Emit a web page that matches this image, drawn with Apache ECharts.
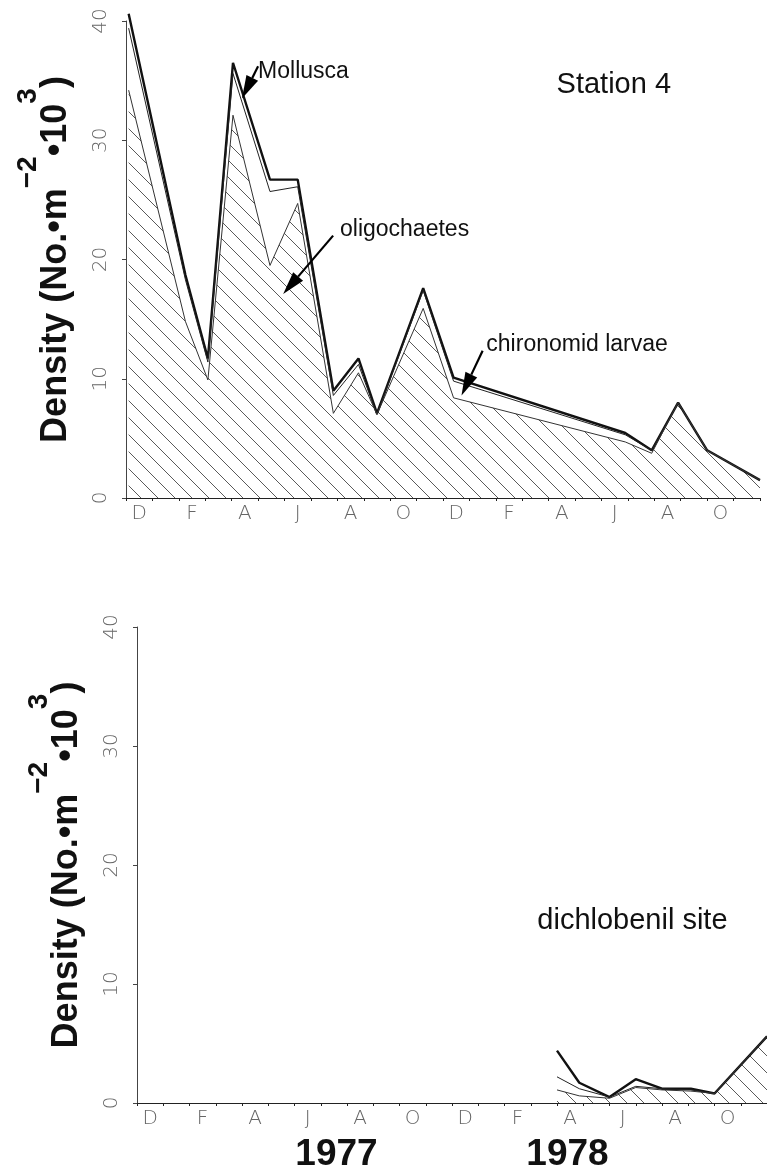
<!DOCTYPE html>
<html>
<head>
<meta charset="utf-8">
<script src="https://cdn.jsdelivr.net/npm/echarts@6/dist/echarts.min.js"></script>
<style>
  html, body { margin: 0; padding: 0; background: #fff; }
  #chart { width: 767px; height: 1171px; }
</style>
</head>
<body>
<div id="chart"></div>
<script>
// Month axis: Dec 1976 .. Nov 1978, one category per month
const monthLetters = ['D','J','F','M','A','M','J','J','A','S','O','N',
                      'D','J','F','M','A','M','J','J','A','S','O','N'];
const densityTicks = [0, 10, 20, 30, 40];

// Station 4: sampling dates (months after 1 Dec 1976) and densities (No. m^-2 x 10^3)
const s4Months        = [0.1, 2.25, 3.1, 4.05, 5.45, 6.5, 7.85, 8.8, 9.5, 11.25, 12.4, 18.9, 19.9, 20.9, 22.0, 24.0];
const s4Oligochaetes  = [34.2, 14.8, 9.9, 32.1, 19.5, 24.7, 7.1, 10.5, 7.0, 15.9, 8.4, 4.7, 3.75, 8.0, 4.0, 1.5];
const s4Chironomids   = [5.2, 3.5, 1.5, 3.5, 6.2, 1.4, 1.5, 0.7, 0.0, 1.5, 1.4, 0.6, 0.25, 0, 0, 0];
const s4Mollusca      = [1.2, 0.4, 0.3, 0.9, 1.0, 0.6, 0.4, 0.5, 0.1, 0.2, 0.3, 0.15, 0, 0, 0, 0];

// Dichlobenil site
const dbMonths        = [16.0, 16.85, 18.0, 19.0, 20.0, 21.1, 22.0, 24.0];
const dbOligochaetes  = [1.1, 0.6, 0.4, 1.3, 1.1, 1.0, 0.8, 5.6];
const dbChironomids   = [1.1, 0.6, 0.1, 0.1, 0.1, 0.1, 0.0, 0.0];
const dbMollusca      = [2.2, 0.5, 0.0, 0.6, 0.0, 0.1, 0.0, 0.0];

// Year captions placed under the month axis (month position)
const yearLabels = [['1977', 7.6], ['1978', 16.4]];

const TITLE_FONT = '"Liberation Sans", Arial, Helvetica, sans-serif';
const TICK_FONT = '"DejaVu Sans", sans-serif';

// running totals for the stacked bands
function sum(a, b) { return a.map((v, i) => +(v + b[i]).toFixed(3)); }
function pairs(xs, ys) { return xs.map((x, i) => [x, ys[i]]); }

const s4Top2 = sum(s4Oligochaetes, s4Chironomids);
const s4Total = sum(s4Top2, s4Mollusca);
const dbTop2 = sum(dbOligochaetes, dbChironomids);
const dbTotal = sum(dbTop2, dbMollusca);

// diagonal hatching for the oligochaete area
function hatchCanvas() {
  const s = 17;
  const c = document.createElement('canvas');
  c.width = s; c.height = s;
  const g = c.getContext('2d');
  g.strokeStyle = '#5a5a5a';
  g.lineWidth = 1;
  for (const k of [-s, 0, s]) {
    g.beginPath();
    g.moveTo(k - 1, -1);
    g.lineTo(k + s + 1, s + 1);
    g.stroke();
  }
  return c;
}
const hatch = { image: hatchCanvas(), repeat: 'repeat' };

const chart = echarts.init(document.getElementById('chart'));

function monthAxis(gridIndex) {
  return {
    type: 'category', gridIndex, data: monthLetters, boundaryGap: true, z: 5,
    axisLine: { lineStyle: { color: '#222', width: 1 } },
    axisTick: { show: true, interval: 0, length: 3, lineStyle: { color: '#222' } },
    axisLabel: { interval: 1, margin: 6, fontFamily: TICK_FONT, fontSize: 20, fontWeight: 200, color: '#666' },
    splitLine: { show: false }
  };
}
function dataAxis(gridIndex) {
  return { type: 'value', gridIndex, min: 0, max: 24, show: false };
}
function densityAxis(gridIndex) {
  return {
    type: 'value', gridIndex, min: densityTicks[0], max: densityTicks[densityTicks.length - 1], interval: 10, z: 5,
    axisLine: { show: true, lineStyle: { color: '#444', width: 1 } },
    axisTick: { show: true, length: 4, lineStyle: { color: '#444' } },
    splitLine: { show: false },
    axisLabel: { rotate: 90, margin: 15, fontFamily: TICK_FONT, fontSize: 20, fontWeight: 200, color: '#666' },
    name: '{a|Density (No.•m}{s|−2}{a|•10}{s|3}{a|)}',
    nameLocation: 'middle', nameRotate: 90, nameGap: 52,
    nameTextStyle: {
      fontFamily: TITLE_FONT, fontWeight: 'bold', fontSize: 36, color: '#111',
      rich: {
        a: { fontFamily: TITLE_FONT, fontWeight: 'bold', fontSize: 36, color: '#111', verticalAlign: 'bottom' },
        s: { fontFamily: TITLE_FONT, fontWeight: 'bold', fontSize: 28, color: '#111', verticalAlign: 'top', lineHeight: 60 }
      }
    }
  };
}

function layerSeries(gridIndex, months, values, kind) {
  const base = {
    type: 'line', xAxisIndex: gridIndex * 2 + 1, yAxisIndex: gridIndex,
    data: pairs(months, values), symbol: 'none', clip: false, silent: true, z: 2
  };
  if (kind === 'total') {
    base.lineStyle = { color: '#111', width: 2.4 };
    base.areaStyle = { color: '#fff', opacity: 1 };
  } else if (kind === 'mid') {
    base.lineStyle = { color: '#222', width: 1 };
    base.areaStyle = { color: '#fff', opacity: 1 };
  } else {
    base.lineStyle = { color: '#333', width: 1 };
    base.areaStyle = { color: hatch, opacity: 1 };
  }
  return base;
}

chart.setOption({
  animation: false,
  backgroundColor: '#fff',
  grid: [
    { left: 126, top: 21, width: 634, height: 477 },
    { left: 137, top: 627, width: 630, height: 476 }
  ],
  xAxis: [monthAxis(0), dataAxis(0), monthAxis(1), dataAxis(1)],
  yAxis: [densityAxis(0), densityAxis(1)],
  series: [
    layerSeries(0, s4Months, s4Total, 'total'),
    layerSeries(0, s4Months, s4Top2, 'mid'),
    layerSeries(0, s4Months, s4Oligochaetes, 'oligo'),
    layerSeries(1, dbMonths, dbTotal, 'total'),
    layerSeries(1, dbMonths, dbTop2, 'mid'),
    layerSeries(1, dbMonths, dbOligochaetes, 'oligo')
  ]
});

// annotation arrows: tail and tip in (month, density) of a panel
const arrows = [
  { grid: 0, text: 'Mollusca',          tail: [5.0, 36.2],  tip: [4.39, 33.5], label: [5.0, 35.72] },
  { grid: 0, text: 'oligochaetes',      tail: [7.84, 22.0], tip: [5.95, 17.1], label: [8.1, 22.47] },
  { grid: 0, text: 'chironomid larvae', tail: [13.5, 12.35], tip: [12.7, 8.6], label: [13.64, 12.83] }
];
const panelCaptions = [
  { grid: 0, text: 'Station 4',        at: [16.3, 34.6] },
  { grid: 1, text: 'dichlobenil site', at: [15.25, 15.3] }
];

function px(grid, p) {
  return chart.convertToPixel({ xAxisIndex: grid * 2 + 1, yAxisIndex: grid }, p);
}

const graphics = [];
arrows.forEach(a => {
  const t = px(a.grid, a.tail), h = px(a.grid, a.tip);
  const dx = h[0] - t[0], dy = h[1] - t[1];
  const len = Math.hypot(dx, dy), ux = dx / len, uy = dy / len;
  const headLen = 23, headW = 6.5;
  const bx = h[0] - ux * headLen, by = h[1] - uy * headLen;
  graphics.push({
    type: 'line', silent: true, z: 10,
    shape: { x1: t[0], y1: t[1], x2: bx, y2: by },
    style: { stroke: '#000', lineWidth: 2.2 }
  });
  graphics.push({
    type: 'polygon', silent: true, z: 10,
    shape: { points: [h, [bx - uy * headW, by + ux * headW], [bx + uy * headW, by - ux * headW]] },
    style: { fill: '#000' }
  });
  const l = px(a.grid, a.label);
  graphics.push({
    type: 'text', silent: true, z: 10, x: l[0], y: l[1],
    style: { text: a.text, font: '23px ' + TITLE_FONT, fill: '#111', align: 'left', verticalAlign: 'middle' }
  });
});
panelCaptions.forEach(c => {
  const p = px(c.grid, c.at);
  graphics.push({
    type: 'text', silent: true, z: 10, x: p[0], y: p[1],
    style: { text: c.text, font: '29px ' + TITLE_FONT, fill: '#111', align: 'left', verticalAlign: 'middle' }
  });
});
yearLabels.forEach(([txt, m]) => {
  const p = px(1, [m, 0]);
  graphics.push({
    type: 'text', silent: true, z: 10, x: p[0], y: p[1] + 52,
    style: { text: txt, font: 'bold 37px ' + TITLE_FONT, fill: '#111', align: 'center', verticalAlign: 'middle' }
  });
});
chart.setOption({ graphic: graphics });
</script>
</body>
</html>
